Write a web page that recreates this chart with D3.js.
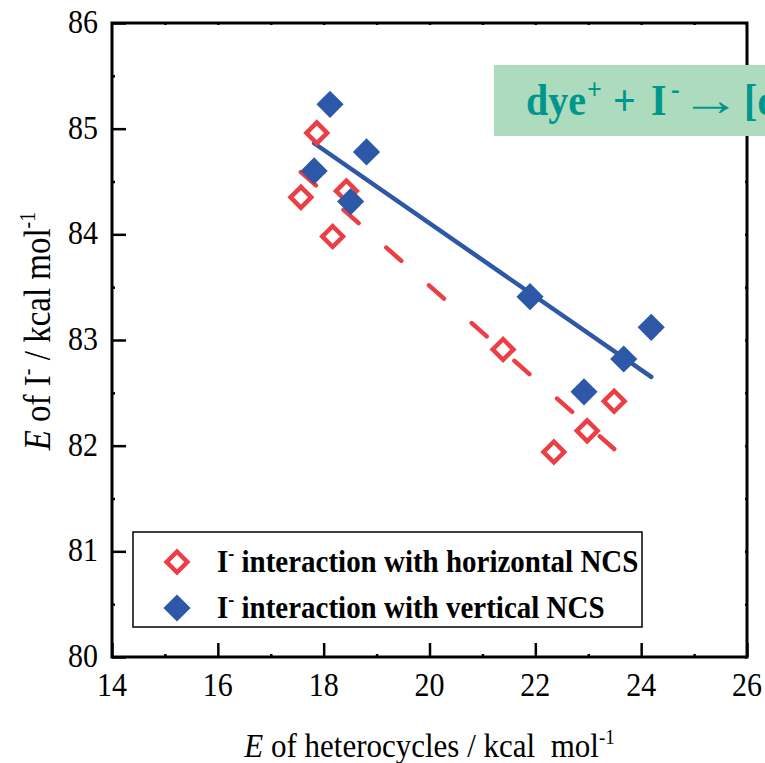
<!DOCTYPE html>
<html>
<head>
<meta charset="utf-8">
<script src="https://cdn.jsdelivr.net/npm/d3@7"></script>
<style>
  body { margin: 0; background: #fff; }
  text { font-family: "Liberation Serif", "Times New Roman", serif; }
</style>
</head>
<body>
<svg id="chart" width="765" height="763"></svg>
<script>
const horizX = [17.87, 17.57, 18.43, 18.17, 21.39, 22.35, 22.98, 23.49];
const horizY = [84.96, 84.35, 84.41, 83.98, 82.91, 81.94, 82.14, 82.42];
const vertX = [18.12, 17.82, 18.81, 18.51, 21.90, 22.92, 23.67, 24.19];
const vertY = [85.23, 84.60, 84.78, 84.31, 83.41, 82.51, 82.82, 83.12];
const xTicks = [14, 16, 18, 20, 22, 24, 26];
const yTicks = [80, 81, 82, 83, 84, 85, 86];
const seriesNames = ['interaction with horizontal NCS', 'interaction with vertical NCS'];

const red = '#ec3f45';
const blue = '#2d58a7';
const stretch = 1.12; // the source fonts are a bit taller than wide

const svg = d3.select('#chart');
const plotLeft = 112, plotRight = 747, plotTop = 23, plotBottom = 657;

const x = d3.scaleLinear().domain([14, 26]).range([plotLeft, plotRight]);
const y = d3.scaleLinear().domain([80, 86]).range([plotBottom, plotTop]);

const toPoints = (xs, ys) => xs.map((v, i) => ({ x: v, y: ys[i] }));

// least squares fit, drawn over the data's x range
const fitLine = (pts) => {
  const mx = d3.mean(pts, d => d.x);
  const my = d3.mean(pts, d => d.y);
  const slope = d3.sum(pts, d => (d.x - mx) * (d.y - my)) / d3.sum(pts, d => (d.x - mx) ** 2);
  const [x0, x1] = d3.extent(pts, d => d.x);
  return [x0, x1].map(v => ({ x: v, y: my + slope * (v - mx) }));
};

const horiz = toPoints(horizX, horizY);
const vert = toPoints(vertX, vertY);

const minorX = d3.range(15, 26, 2);
const minorY = d3.range(80.5, 86, 1);

const tickAxis = (axis, transform) => svg.append('g')
  .attr('transform', transform)
  .call(axis)
  .call(g => g.select('.domain').remove())
  .call(g => g.selectAll('.tick line').attr('stroke', '#000').attr('stroke-width', 2.5));

tickAxis(d3.axisBottom(x).tickValues(xTicks).tickSize(-14).tickFormat(''), `translate(0,${plotBottom})`);
tickAxis(d3.axisLeft(y).tickValues(yTicks).tickSize(-14).tickFormat(''), `translate(${plotLeft},0)`);
tickAxis(d3.axisBottom(x).tickValues(minorX).tickSize(-3).tickFormat(''), `translate(0,${plotBottom})`);
tickAxis(d3.axisLeft(y).tickValues(minorY).tickSize(-3).tickFormat(''), `translate(${plotLeft},0)`);
tickAxis(d3.axisTop(x).tickValues(d3.range(15, 26)).tickSize(-2).tickFormat(''), `translate(0,${plotTop})`);
tickAxis(d3.axisRight(y).tickValues(minorY.concat(yTicks)).tickSize(-2).tickFormat(''), `translate(${plotRight},0)`);

// tick labels
svg.append('g')
  .selectAll('text')
  .data(xTicks)
  .enter()
  .append('text')
  .attr('transform', d => `translate(${x(d)},696) scale(1,${stretch})`)
  .attr('text-anchor', 'middle')
  .style('font-size', '30px')
  .text(d3.format('d'));

svg.append('g')
  .selectAll('text')
  .data(yTicks)
  .enter()
  .append('text')
  .attr('transform', d => `translate(98,${y(d) + 10}) scale(1,${stretch})`)
  .attr('text-anchor', 'end')
  .style('font-size', '30px')
  .text(d3.format('d'));

svg.append('rect')
  .attr('x', plotLeft)
  .attr('y', plotTop)
  .attr('width', plotRight - plotLeft)
  .attr('height', plotBottom - plotTop)
  .attr('fill', 'none')
  .attr('stroke', '#000')
  .attr('stroke-width', 3);

// axis titles
const xTitle = svg.append('text')
  .attr('transform', `translate(${(plotLeft + plotRight) / 2},757) scale(1,${stretch})`)
  .attr('text-anchor', 'middle')
  .style('font-size', '31px');
xTitle.append('tspan').style('font-style', 'italic').text('E');
xTitle.append('tspan').text(' of heterocycles / kcal\u00a0 mol');
xTitle.append('tspan').attr('dy', -12).style('font-size', '19px').text('-1');

const yTitle = svg.append('text')
  .attr('transform', `translate(50,331) rotate(-90) scale(1,${stretch})`)
  .attr('text-anchor', 'middle')
  .style('font-size', '33px');
yTitle.append('tspan').style('font-style', 'italic').text('E');
yTitle.append('tspan').text(' of I');
yTitle.append('tspan').attr('dy', -13).style('font-size', '20px').text('-');
yTitle.append('tspan').attr('dy', 13).text(' / kcal mol');
yTitle.append('tspan').attr('dy', -13).style('font-size', '20px').text('-1');

// fit lines
const line = d3.line().x(d => x(d.x)).y(d => y(d.y));

svg.append('path')
  .datum(fitLine(horiz))
  .attr('d', line)
  .attr('fill', 'none')
  .attr('stroke', red)
  .attr('stroke-width', 4.5)
  .attr('stroke-linecap', 'round')
  .attr('stroke-dasharray', '20,37');

svg.append('path')
  .datum(fitLine(vert))
  .attr('d', line)
  .attr('fill', 'none')
  .attr('stroke', blue)
  .attr('stroke-width', 4.5)
  .attr('stroke-linecap', 'round');

const hollow = d3.symbol(d3.symbolSquare, 215)();
const filled = d3.symbol(d3.symbolSquare, 370)();

svg.append('g')
  .selectAll('path')
  .data(horiz)
  .enter()
  .append('path')
  .attr('d', hollow)
  .attr('transform', d => `translate(${x(d.x)},${y(d.y)}) rotate(45)`)
  .attr('fill', 'none')
  .attr('stroke', red)
  .attr('stroke-width', 4.5);

svg.append('g')
  .selectAll('path')
  .data(vert)
  .enter()
  .append('path')
  .attr('d', filled)
  .attr('transform', d => `translate(${x(d.x)},${y(d.y)}) rotate(45)`)
  .attr('fill', blue);

// reaction label, cut by the page edge as in the source
const note = svg.append('g')
  .attr('fill', '#00968c')
  .style('font-weight', 'bold');
note.append('rect')
  .attr('x', 494)
  .attr('y', 65)
  .attr('width', 300)
  .attr('height', 71)
  .attr('fill', '#acdbbd');

const noteText = (xPos, dy, size, str, sx = 1) => note.append('text')
  .attr('transform', `translate(${xPos},${115 + dy}) scale(${sx},${stretch})`)
  .style('font-size', `${size}px`)
  .text(str);

noteText(526, 0, 40, 'dye');
noteText(587, -16, 26, '+');
noteText(613, 0, 40, '+');
noteText(651, 0, 40, 'I');
noteText(671, -16, 26, '-');
noteText(681, 0, 40, '\u2192', 1.5);
noteText(744, 0, 40, '[d');

// legend
const legend = svg.append('g');
legend.append('rect')
  .attr('x', 133)
  .attr('y', 532)
  .attr('width', 509)
  .attr('height', 95)
  .attr('fill', '#fff')
  .attr('stroke', '#000')
  .attr('stroke-width', 1.5);

const rows = legend.selectAll('g.row')
  .data(seriesNames)
  .enter()
  .append('g')
  .attr('class', 'row')
  .attr('transform', (d, i) => `translate(0,${562 + i * 46})`);

rows.append('path')
  .attr('d', (d, i) => (i === 0 ? hollow : filled))
  .attr('transform', 'translate(177,0) rotate(45)')
  .attr('fill', (d, i) => (i === 0 ? 'none' : blue))
  .attr('stroke', (d, i) => (i === 0 ? red : 'none'))
  .attr('stroke-width', 4.5);

const rowText = rows.append('text')
  .attr('transform', `translate(217,10) scale(1,${stretch})`)
  .style('font-size', '29px')
  .style('font-weight', 'bold');
rowText.append('tspan').text('I');
rowText.append('tspan').attr('dy', -11).style('font-size', '18px').text('-');
rowText.append('tspan').attr('dy', 11).text(d => ` ${d}`);
</script>
</body>
</html>
